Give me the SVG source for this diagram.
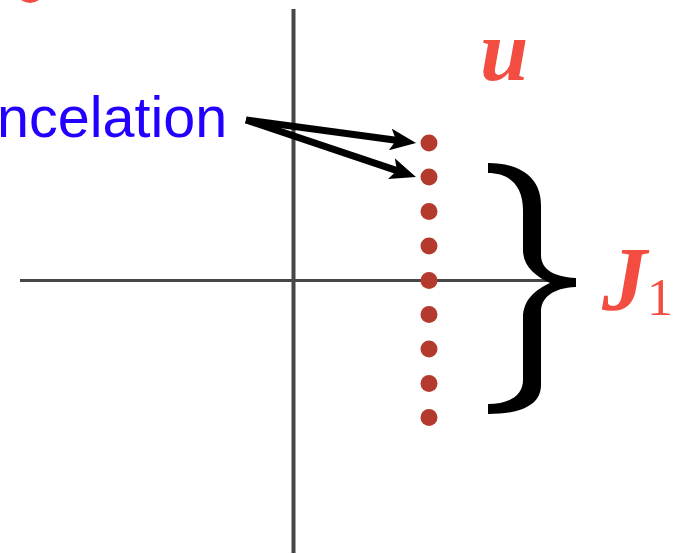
<svg xmlns="http://www.w3.org/2000/svg" width="674" height="554" viewBox="0 0 674 554">
<style>
.axis{stroke:#474747;fill:none}
.dot{fill:#b53a2e}
.arrow{stroke:#000;stroke-width:7;fill:none}
.math{font-family:"Liberation Serif","DejaVu Serif",serif;font-style:italic;font-weight:bold;fill:#f24d40}
.num{font-family:"Liberation Serif","DejaVu Serif",serif;fill:#f24d40}
.label{font-family:"Liberation Sans",Arial,sans-serif;fill:#2200ff}
</style>
<defs>
<marker id="ah" markerWidth="26" markerHeight="22" refX="6" refY="11" orient="auto" markerUnits="userSpaceOnUse">
<path d="M0,0 L26,11 L0,22 L6,11 Z" fill="#000"/>
</marker>
</defs>
<rect width="674" height="554" fill="#fff"/>
<g id="axes">
<line class="axis" x1="293.5" y1="9" x2="293.5" y2="553" stroke-width="4"/>
<line class="axis" x1="20" y1="280.5" x2="576" y2="280.5" stroke-width="3"/>
</g>
<path d="M21,0 Q30,6 39,0 Z" fill="#f24d40"/>
<g id="points">
<circle class="dot" cx="429" cy="143" r="8.5"/>
<circle class="dot" cx="429" cy="177" r="8.5"/>
<circle class="dot" cx="429" cy="211.5" r="8.5"/>
<circle class="dot" cx="429" cy="246" r="8.5"/>
<circle class="dot" cx="429" cy="280.5" r="8.5"/>
<circle class="dot" cx="429" cy="314.5" r="8.5"/>
<circle class="dot" cx="429" cy="349" r="8.5"/>
<circle class="dot" cx="429" cy="383.5" r="8.5"/>
<circle class="dot" cx="429" cy="417.5" r="8.5"/>
</g>
<g id="label-u"><text class="math" x="480" y="80" font-size="87">u</text></g>
<g id="label-cancel"><text class="label" x="-3" y="137" font-size="57.5">ncelation</text></g>
<g id="connectors">
<line class="arrow" x1="246" y1="120" x2="396.2" y2="140.3" marker-end="url(#ah)"/>
<line class="arrow" x1="246" y1="120" x2="397" y2="170.6" marker-end="url(#ah)"/>
</g>
<g id="brace">
<path d="M488,163 C521,163 541,178 541,205 L541,255 C541,268 552,277 576,278 L576,287 C552,288 541,298 541,312 L541,385 C541,405 521,414 488,414 L488,404 C510,404 523,395 523,380 L523,318 C523,300 535,290 550,283 C535,276 523,266 523,250 L523,210 C523,186 510,173 488,173 Z" fill="#000"/>
</g>
<g id="label-J1">
<text class="math" x="602" y="310" font-size="90">J</text>
<text class="num" x="647" y="315" font-size="52">1</text>
</g>
</svg>
